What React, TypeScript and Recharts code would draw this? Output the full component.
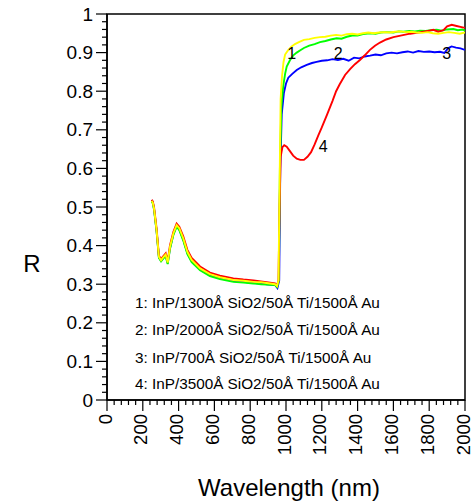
import { LineChart, Line, XAxis, YAxis, ReferenceArea, ReferenceDot } from "recharts";

const FONT = "'Liberation Sans', Arial, sans-serif";

// UV/visible part: the four curves sit almost on top of each other
const uvYellow: [number, number][] = [
  [250, 0.516], [256, 0.511], [263, 0.496], [277, 0.44], [290, 0.371], [302, 0.362],
  [315, 0.37], [328, 0.377], [339, 0.356], [352, 0.397], [371, 0.432], [389, 0.453],
  [404, 0.445], [426, 0.419], [449, 0.384], [473, 0.363], [520, 0.341], [575, 0.326],
  [631, 0.318], [706, 0.311], [762, 0.309], [818, 0.306], [860, 0.305], [892, 0.303],
  [939, 0.3], [950, 0.295], [958, 0.31],
];
const uvGreen: [number, number][] = [
  [250, 0.514], [256, 0.509], [263, 0.493], [277, 0.437], [290, 0.368], [302, 0.359],
  [315, 0.367], [328, 0.372], [339, 0.352], [352, 0.392], [371, 0.428], [389, 0.449],
  [404, 0.44], [426, 0.413], [449, 0.378], [473, 0.357], [520, 0.336], [575, 0.321],
  [631, 0.313], [706, 0.306], [762, 0.304], [818, 0.302], [860, 0.3], [892, 0.299],
  [939, 0.298], [950, 0.293], [960, 0.31],
];
const uvBlue: [number, number][] = [
  [250, 0.518], [256, 0.512], [263, 0.494], [277, 0.438], [290, 0.37], [302, 0.361],
  [315, 0.368], [328, 0.375], [339, 0.354], [352, 0.394], [371, 0.43], [389, 0.451],
  [404, 0.442], [426, 0.416], [449, 0.381], [473, 0.36], [520, 0.338], [575, 0.323],
  [631, 0.315], [706, 0.308], [762, 0.306], [818, 0.303], [860, 0.302], [892, 0.3],
  [939, 0.298], [952, 0.29], [962, 0.31],
];
const uvRed: [number, number][] = [
  [250, 0.519], [256, 0.514], [263, 0.499], [277, 0.444], [290, 0.374], [302, 0.365],
  [315, 0.373], [328, 0.38], [339, 0.36], [352, 0.401], [371, 0.436], [389, 0.457],
  [404, 0.449], [426, 0.424], [449, 0.389], [473, 0.368], [520, 0.346], [575, 0.33],
  [631, 0.322], [706, 0.315], [762, 0.312], [818, 0.31], [860, 0.307], [892, 0.305],
  [939, 0.302], [950, 0.297], [958, 0.31],
];

// near-IR part, after the absorption edge
const irYellow: [number, number][] = [
  [964, 0.55], [970, 0.78], [978, 0.84], [986, 0.875], [995, 0.895], [1010, 0.905],
  [1030, 0.915], [1050, 0.922], [1075, 0.928], [1100, 0.933], [1130, 0.935], [1160, 0.938],
  [1190, 0.94], [1220, 0.941], [1250, 0.944], [1280, 0.946], [1310, 0.944], [1340, 0.948],
  [1370, 0.949], [1400, 0.947], [1430, 0.95], [1460, 0.952], [1490, 0.95], [1520, 0.952],
  [1550, 0.953], [1580, 0.952], [1610, 0.954], [1640, 0.955], [1670, 0.953], [1700, 0.954],
  [1730, 0.952], [1760, 0.951], [1790, 0.953], [1820, 0.95], [1850, 0.949], [1880, 0.951],
  [1910, 0.953], [1940, 0.951], [1970, 0.949], [2000, 0.952],
];
const irGreen: [number, number][] = [
  [966, 0.6], [974, 0.76], [985, 0.815], [995, 0.845], [1004, 0.864], [1022, 0.88],
  [1041, 0.893], [1060, 0.9], [1080, 0.906], [1100, 0.912], [1130, 0.918], [1160, 0.922],
  [1190, 0.927], [1220, 0.93], [1250, 0.934], [1283, 0.937], [1310, 0.936], [1340, 0.941],
  [1376, 0.945], [1400, 0.944], [1430, 0.948], [1469, 0.95], [1500, 0.949], [1530, 0.952],
  [1562, 0.953], [1600, 0.952], [1630, 0.955], [1655, 0.954], [1690, 0.956], [1720, 0.955],
  [1749, 0.957], [1780, 0.956], [1810, 0.958], [1842, 0.959], [1870, 0.957], [1900, 0.96],
  [1935, 0.961], [1960, 0.958], [1985, 0.96], [2000, 0.957],
];
const irBlue: [number, number][] = [
  [968, 0.6], [976, 0.74], [988, 0.795], [1000, 0.82], [1013, 0.835], [1035, 0.845],
  [1060, 0.855], [1085, 0.862], [1116, 0.868], [1145, 0.873], [1171, 0.876], [1200, 0.879],
  [1230, 0.88], [1260, 0.883], [1290, 0.881], [1320, 0.884], [1350, 0.879], [1380, 0.887],
  [1410, 0.885], [1440, 0.89], [1470, 0.892], [1500, 0.895], [1530, 0.893], [1560, 0.898],
  [1590, 0.9], [1620, 0.898], [1650, 0.901], [1680, 0.903], [1710, 0.9], [1740, 0.904],
  [1770, 0.902], [1800, 0.903], [1830, 0.901], [1860, 0.902], [1885, 0.899], [1905, 0.911],
  [1925, 0.916], [1950, 0.913], [1975, 0.911], [2000, 0.907],
];
const irRed: [number, number][] = [
  [964, 0.5], [970, 0.63], [980, 0.655], [990, 0.66], [1004, 0.656], [1020, 0.646],
  [1040, 0.633], [1060, 0.625], [1080, 0.622], [1100, 0.622], [1120, 0.63], [1140, 0.642],
  [1160, 0.662], [1180, 0.685], [1200, 0.706], [1230, 0.74], [1260, 0.775], [1280, 0.8],
  [1300, 0.818], [1330, 0.842], [1358, 0.857], [1385, 0.87], [1413, 0.881], [1440, 0.893],
  [1469, 0.907], [1497, 0.918], [1525, 0.926], [1560, 0.934], [1600, 0.94], [1640, 0.944],
  [1693, 0.949], [1730, 0.951], [1767, 0.954], [1800, 0.957], [1823, 0.959], [1850, 0.954],
  [1880, 0.958], [1900, 0.968], [1926, 0.972], [1953, 0.969], [1981, 0.966], [2000, 0.964],
];

const legendLines = [
  "1: InP/1300Å SiO2/50Å Ti/1500Å Au",
  "2: InP/2000Å SiO2/50Å Ti/1500Å Au",
  "3: InP/700Å SiO2/50Å Ti/1500Å Au",
  "4: InP/3500Å SiO2/50Å Ti/1500Å Au",
];
const legendY = [0.252, 0.182, 0.111, 0.042];

const curveTags = [
  { text: "1", x: 1032, y: 0.898 },
  { text: "2", x: 1292, y: 0.898 },
  { text: "3", x: 1898, y: 0.898 },
  { text: "4", x: 1208, y: 0.656 },
];

const xTicks = Array.from({ length: 51 }, (_, i) => i * 40);
const yTicks = Array.from({ length: 51 }, (_, i) => Number((i * 0.02).toFixed(2)));

const toPts = (a: [number, number][]) => a.map(([x, y]) => ({ x, y }));

// drawing order: blue under, yellow on top
const series = [
  { name: "3", color: "#0000ff", data: toPts([...uvBlue, ...irBlue]) },
  { name: "2", color: "#00ff00", data: toPts([...uvGreen, ...irGreen]) },
  { name: "4", color: "#ff0000", data: toPts([...uvRed, ...irRed]) },
  { name: "1", color: "#ffff00", data: toPts([...uvYellow, ...irYellow]) },
];

function XTick(props: any) {
  const { x, y, payload } = props;
  const v = payload.value;
  const major = v % 200 === 0;
  return (
    <g>
      <line x1={x} x2={x} y1={y} y2={y + (major ? 11 : 5)} stroke="#000" strokeWidth={1.2} />
      {major && (
        <text
          transform={`translate(${x - 2},${y + 14}) rotate(-90)`}
          textAnchor="end"
          dominantBaseline="central"
          fontSize={18.5}
          fontFamily={FONT}
          fill="#000"
        >
          {v}
        </text>
      )}
    </g>
  );
}

function YTick(props: any) {
  const { x, y, payload } = props;
  const v = payload.value;
  const major = Math.abs(v * 10 - Math.round(v * 10)) < 1e-6;
  return (
    <g>
      <line x1={x - (major ? 11 : 5)} x2={x} y1={y} y2={y} stroke="#000" strokeWidth={1.2} />
      {major && (
        <text x={x - 14} y={y} textAnchor="end" dominantBaseline="central" fontSize={19} fontFamily={FONT} fill="#000">
          {String(Number(v.toFixed(1)))}
        </text>
      )}
    </g>
  );
}

export default function App() {
  return (
    <div style={{ position: "absolute", left: 0, top: 0, width: 471, height: 501, background: "#fff" }}>
      <LineChart width={471} height={501} margin={{ top: 14, right: 6, bottom: 71, left: 47 }}>
        <XAxis
          type="number"
          dataKey="x"
          domain={[0, 2000]}
          ticks={xTicks}
          interval={0}
          tickSize={0}
          tickMargin={0}
          tickLine={false}
          tick={XTick}
          height={30}
          axisLine={{ stroke: "#000", strokeWidth: 1.5 }}
          allowDataOverflow
        />
        <YAxis
          type="number"
          domain={[0, 1]}
          ticks={yTicks}
          interval={0}
          tickSize={0}
          tickMargin={0}
          tickLine={false}
          tick={YTick}
          width={60}
          axisLine={{ stroke: "#000", strokeWidth: 1.5 }}
          allowDataOverflow
        />
        <ReferenceArea x1={0} x2={2000} y1={0} y2={1} fill="none" fillOpacity={0} stroke="#000" strokeWidth={1.5} />
        {series.map((s) => (
          <Line
            key={s.name}
            data={s.data}
            dataKey="y"
            type="linear"
            stroke={s.color}
            strokeWidth={1.9}
            dot={false}
            isAnimationActive={false}
          />
        ))}
        {curveTags.map((t) => (
          <ReferenceDot
            key={t.text}
            x={t.x}
            y={t.y}
            r={0}
            fill="none"
            stroke="none"
            label={{ value: t.text, position: "center", fontSize: 16, fontFamily: FONT, fill: "#000" }}
          />
        ))}
        {legendLines.map((txt, i) => (
          <ReferenceDot
            key={txt}
            x={156}
            y={legendY[i]}
            r={0}
            fill="none"
            stroke="none"
            label={{ value: txt, position: "right", offset: 0, fontSize: 15.3, fontFamily: FONT, fill: "#000" }}
          />
        ))}
        <text x={32} y={263} textAnchor="middle" dominantBaseline="central" fontSize={24} fontFamily={FONT} fill="#000">
          R
        </text>
        <text x={289} y={487} textAnchor="middle" dominantBaseline="central" fontSize={24} fontFamily={FONT} fill="#000">
          Wavelength (nm)
        </text>
      </LineChart>
    </div>
  );
}
